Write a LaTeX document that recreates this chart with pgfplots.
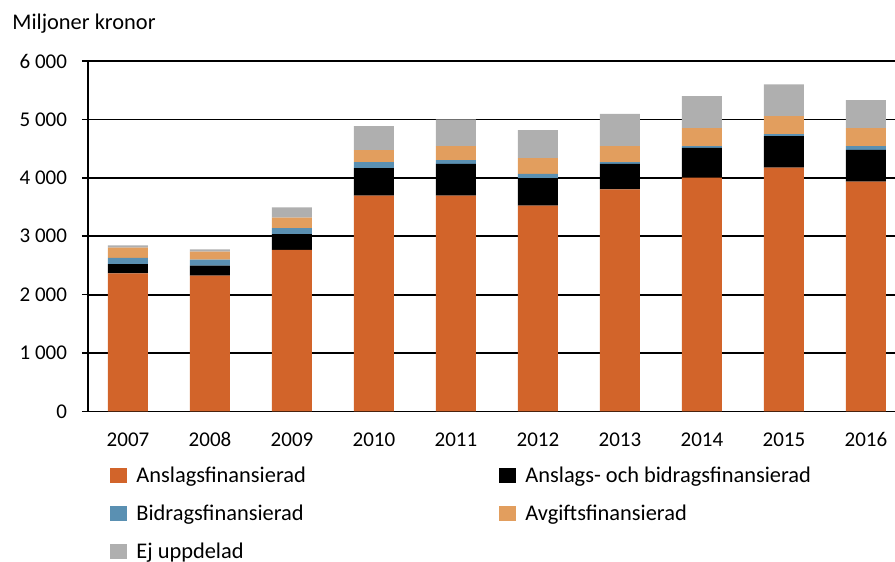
\documentclass[border=0pt]{standalone}
\usepackage{pgfplots}
\pgfplotsset{compat=1.18}
\usepackage{fontspec}
\setmainfont{Carlito}
\definecolor{cAns}{HTML}{D2642A}
\definecolor{cBid}{HTML}{5A90B2}
\definecolor{cAvg}{HTML}{E29E5E}
\definecolor{cEj}{HTML}{AFAFAF}
\begin{document}
\begin{tikzpicture}
\useasboundingbox (-44pt,-75.25pt) rectangle (403.5pt,205.75pt);
\begin{axis}[
  at={(0,0)}, anchor=south west,
  scale only axis,
  width=403.5pt, height=175.25pt,
  ybar stacked, bar width=20pt,
  xmin=-0.4878, xmax=9.354,
  ymin=0, ymax=6000,
  xtick={0,...,9},
  xticklabels={2007,2008,2009,2010,2011,2012,2013,2014,2015,2016},
  tick label style={font=\fontsize{10.5}{12}\selectfont},
  x tick label style={yshift=-4pt},
  major x tick style={draw=none},
  ytick={0,1000,2000,3000,4000,5000,6000},
  yticklabels={0,1 000,2 000,3 000,4 000,5 000,6 000},
  y tick label style={xshift=-4pt},
  tick align=outside,
  major tick length=3pt,
  ytick style={black, line width=0.8pt},
  ymajorgrids,
  grid style={black, line width=0.9pt},
  axis x line*=bottom,
  axis y line*=left,
  axis line style={black, line width=0.9pt, -},
  legend columns=2,
  legend cell align=left,
  legend style={at={(0.02726,-0.146)}, anchor=north west, draw=none, fill=none, inner sep=0pt, row sep=5.6pt, font=\fontsize{11.2}{13}\selectfont},
  legend image code/.code={\draw[#1,draw=none] (0pt,-3.5pt) rectangle (8.5pt,4pt); \path (11pt,0pt);},
]
\addplot[fill=cAns, draw=none] coordinates {(0,2366) (1,2325) (2,2765) (3,3694) (4,3694) (5,3523) (6,3803) (7,4003) (8,4174) (9,3934)};
\addlegendentry{\makebox[179.5pt][l]{Anslagsfinansierad}}
\addplot[fill=black, draw=none] coordinates {(0,159) (1,171) (2,273) (3,474) (4,543) (5,474) (6,434) (7,508) (8,542) (9,543)};
\addlegendentry{Anslags- och bidragsfinansierad}
\addplot[fill=cBid, draw=none] coordinates {(0,103) (1,103) (2,103) (3,103) (4,68) (5,69) (6,34) (7,34) (8,34) (9,68)};
\addlegendentry{\makebox[179.5pt][l]{Bidragsfinansierad}}
\addplot[fill=cAvg, draw=none] coordinates {(0,176) (1,137) (2,177) (3,205) (4,240) (5,273) (6,274) (7,308) (8,308) (9,308)};
\addlegendentry{Avgiftsfinansierad}
\addplot[fill=cEj, draw=none] coordinates {(0,41) (1,41) (2,177) (3,411) (4,457) (5,480) (6,548) (7,548) (8,543) (9,479)};
\addlegendentry{\makebox[179.5pt][l]{Ej uppdelad}}
\end{axis}
\node[anchor=west, inner sep=0pt, font=\fontsize{11.2}{13}\selectfont] at (-38pt,193.75pt) {Miljoner kronor};
\end{tikzpicture}
\end{document}
